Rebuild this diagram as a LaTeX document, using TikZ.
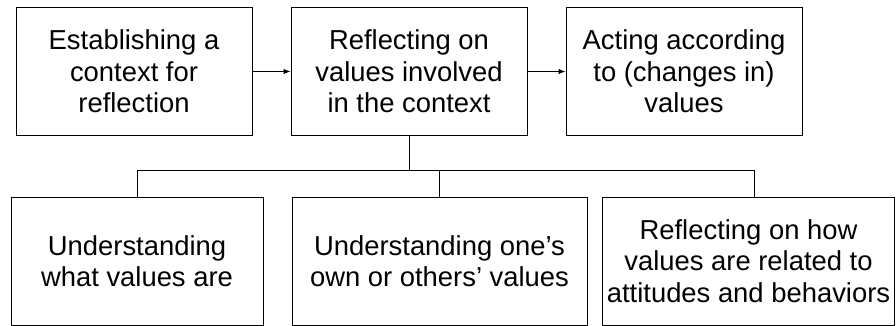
\documentclass[tikz,border=0pt]{standalone}
\usepackage{fontspec}
\setmainfont{Liberation Sans}
\usetikzlibrary{arrows.meta}
\begin{document}
\begin{tikzpicture}[x=1pt,y=-1pt,
  box/.style={draw=black,line width=1pt,minimum height=127pt,inner sep=0pt,
    align=center,font=\fontsize{27.4}{31.5}\selectfont},
  conn/.style={draw=black,line width=1pt},
  arr/.style={conn,-{Latex[length=7pt,width=5.5pt]}}]
\useasboundingbox (0,0) rectangle (896,326);
\node[box,minimum width=236pt] (b1) at (134,71.5) {Establishing a\\context for\\reflection};
\node[box,minimum width=236pt] (b2) at (409,71.5) {Reflecting on\\values involved\\in the context};
\node[box,minimum width=236pt] (b3) at (684,71.5) {Acting according\\to (changes in)\\values};
\node[box,minimum width=252pt,minimum height=128pt] (b4) at (137,261) {Understanding\\what values are};
\node[box,minimum width=295pt,minimum height=128pt] (b5) at (439.5,261) {Understanding one’s\\own or others’ values};
\node[box,minimum width=292pt,minimum height=128pt] (b6) at (748.5,261) {Reflecting on how\\values are related to\\attitudes and behaviors};
\coordinate (bus) at (0,170);
\draw[arr] (b1) -- (b2);
\draw[arr] (b2) -- (b3);
\draw[conn] (b2.south) -- (b2.south |- bus);
\draw[conn] (b4.north) |- ([xshift=5.5pt]b6.north |- bus) -- ([xshift=5.5pt]b6.north);
\draw[conn] (b5.north) -- (b5.north |- bus);
\end{tikzpicture}
\end{document}
